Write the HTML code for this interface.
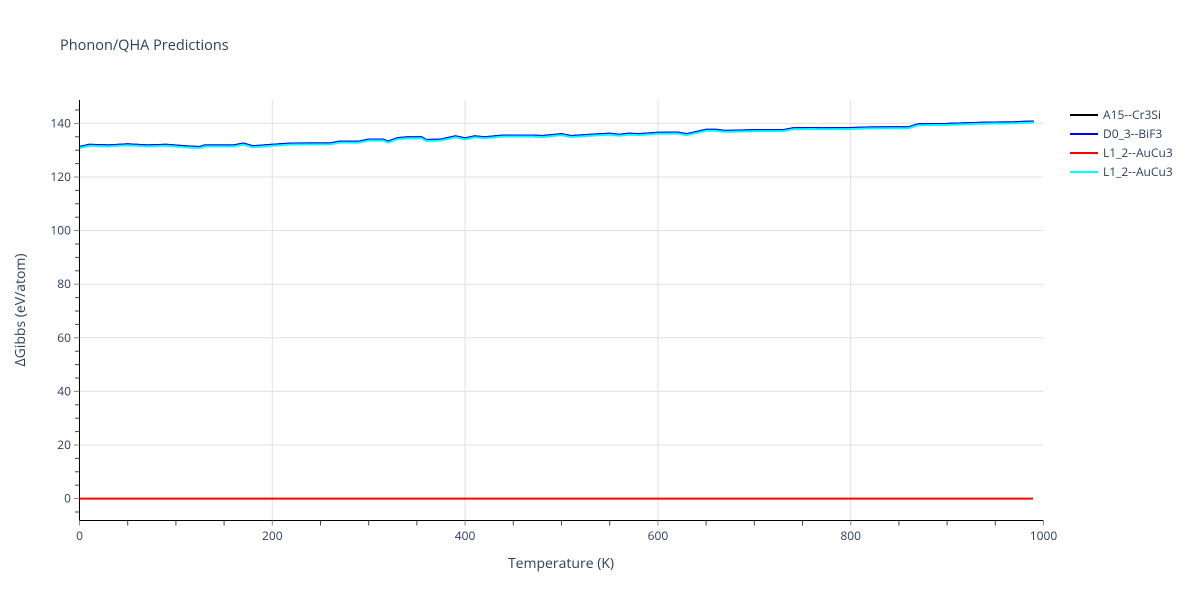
<!DOCTYPE html>
<html><head><meta charset="utf-8"><style>
body{margin:0;background:#fff;}
svg{font-family:"Open Sans","Liberation Sans",sans-serif;}
</style></head><body>
<svg id="s" width="1200" height="600" xmlns="http://www.w3.org/2000/svg">
<rect width="1200" height="600" fill="#fff"/>
<text x="60" y="50" font-size="14.5" fill="#2a3f5f">Phonon/QHA Predictions</text>
<g id="grid" stroke="#e0e0e0" stroke-width="1"></g>
<g id="lines"></g>
<g id="axes"></g>
<text x="561" y="568" font-size="14" fill="#2a3f5f" text-anchor="middle">Temperature (K)</text>
<text transform="translate(25,310) rotate(-90)" font-size="14" fill="#2a3f5f" text-anchor="middle">ΔGibbs (eV/atom)</text>
<g font-size="12" fill="#2a3f5f">
<line x1="1070" y1="115" x2="1098" y2="115" stroke="#000" stroke-width="2"/><text x="1103" y="119">A15--Cr3Si</text>
<line x1="1070" y1="134" x2="1098" y2="134" stroke="#0000ff" stroke-width="2"/><text x="1103" y="138">D0_3--BiF3</text>
<line x1="1070" y1="153" x2="1098" y2="153" stroke="#ff0000" stroke-width="2"/><text x="1103" y="157">L1_2--AuCu3</text>
<line x1="1070" y1="172" x2="1098" y2="172" stroke="#00ffff" stroke-width="2"/><text x="1103" y="176">L1_2--AuCu3</text>
</g>
</svg>
<script>
var NS="http://www.w3.org/2000/svg";
function X(t){return 79.5+t*0.964;}
function Y(v){return 498.6-v*2.68;}
function el(p,tag,a,txt){var e=document.createElementNS(NS,tag);for(var k in a)e.setAttribute(k,a[k]);if(txt!=null)e.textContent=txt;document.getElementById(p).appendChild(e);return e;}
for(var v=20;v<=140;v+=20)el("grid","line",{x1:79.5,x2:1043.5,y1:Y(v),y2:Y(v)});
for(var t=200;t<=800;t+=200)el("grid","line",{x1:X(t),x2:X(t),y1:100,y2:520});
var d=[[0,131.2],[10,132],[30,131.8],[50,132.2],[70,131.8],[90,132],[110,131.5],[125,131.2],[130,131.8],[160,131.8],[170,132.5],[180,131.5],[200,132],[220,132.5],[260,132.6],[270,133.2],[290,133.2],[300,134],[315,134],[320,133.2],[330,134.5],[340,134.8],[355,134.8],[360,133.8],[375,134],[390,135.2],[400,134.4],[410,135.2],[420,134.8],[440,135.5],[470,135.5],[480,135.3],[500,136],[510,135.3],[530,135.8],[550,136.2],[560,135.8],[570,136.2],[580,136],[600,136.5],[620,136.6],[630,136],[650,137.6],[660,137.6],[670,137.2],[700,137.5],[730,137.5],[740,138.2],[760,138.3],[770,138.2],[800,138.3],[820,138.5],[860,138.6],[870,139.7],[900,139.8],[940,140.3],[970,140.4],[980,140.6],[990,140.7]];
var pts=d.map(function(p){return X(p[0]).toFixed(1)+","+Y(p[1]).toFixed(1)}).join(" ");
var pts2=d.map(function(p){return X(p[0]).toFixed(1)+","+(Y(p[1])+1).toFixed(1)}).join(" ");
el("lines","polyline",{points:pts,fill:"none",stroke:"#000",'stroke-width':2});
el("lines","polyline",{points:pts,fill:"none",stroke:"#0000ff",'stroke-width':2});
el("lines","polyline",{points:pts2,fill:"none",stroke:"#00ffff",'stroke-width':2});
el("lines","line",{x1:79.5,x2:1033,y1:Y(0),y2:Y(0),stroke:"#ff0000",'stroke-width':2});
el("axes","line",{x1:79.5,x2:79.5,y1:100,y2:520.5,stroke:"#000"});
el("axes","line",{x1:79,x2:1043.5,y1:520.5,y2:520.5,stroke:"#000"});
for(var v=-5;v<=145;v+=5){var major=v%20==0;el("axes","line",{x1:major?74:75,x2:79.5,y1:Y(v),y2:Y(v),stroke:major?"#888":"#444"});if(major)el("axes","text",{x:71,y:Y(v)+4,'font-size':12,fill:"#2a3f5f",'text-anchor':"end"},v);}
for(var t=0;t<=1000;t+=50){var major=t%200==0;el("axes","line",{x1:X(t),x2:X(t),y1:520.5,y2:525.5,stroke:major?"#888":"#444"});if(major)el("axes","text",{x:X(t),y:540,'font-size':12,fill:"#2a3f5f",'text-anchor':"middle"},t);}
</script>
</body></html>
